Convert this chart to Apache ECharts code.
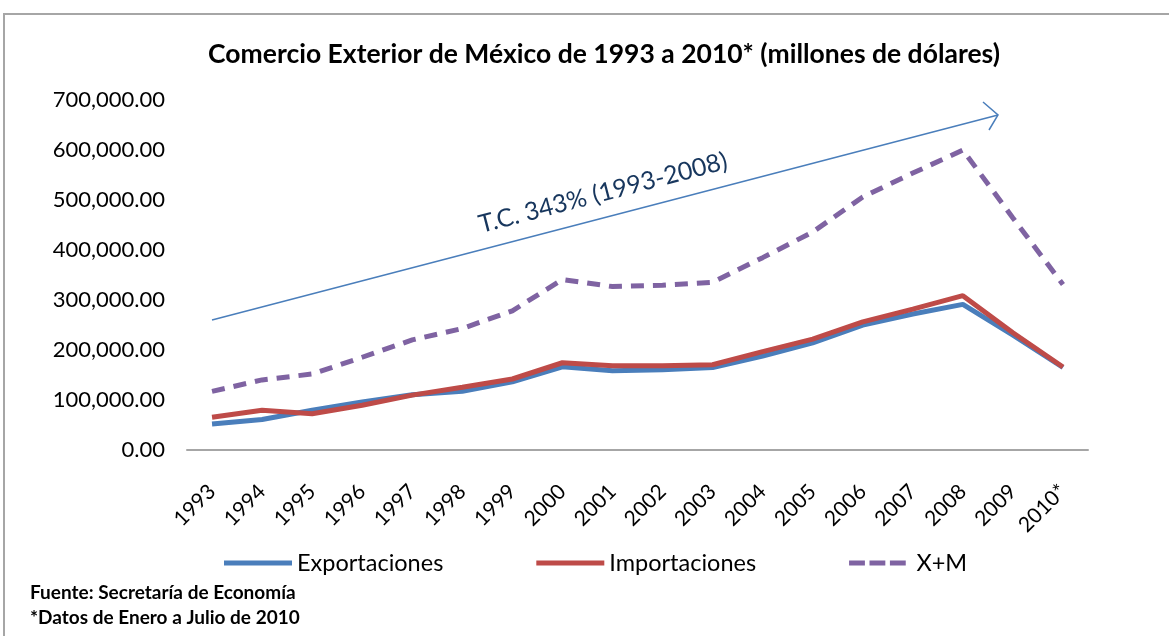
<!DOCTYPE html>
<html>
<head>
<meta charset="utf-8">
<script src="https://cdn.jsdelivr.net/npm/echarts@6/dist/echarts.min.js"></script>
<style>
  html, body { margin: 0; padding: 0; background: #ffffff; }
  #chart { width: 1169px; height: 636px; }
</style>
</head>
<body>
<div id="chart"></div>
<script>
  // datos (millones de dolares)
  var years = ['1993','1994','1995','1996','1997','1998','1999','2000','2001','2002','2003','2004','2005','2006','2007','2008','2009','2010*'];
  var exportaciones = [51900, 60900, 79500, 96000, 110400, 117500, 136400, 166500, 158400, 160700, 164800, 187900, 214200, 249900, 271900, 291300, 229700, 165000];
  var importaciones = [65400, 79300, 72500, 89500, 109800, 125400, 142000, 174500, 168400, 168700, 170500, 196800, 221800, 256100, 281900, 308600, 234400, 166000];
  var xm = [117300, 140200, 152000, 185500, 220200, 242900, 278400, 341000, 326800, 329400, 335300, 384700, 436000, 506000, 553800, 599900, 464100, 331000];
  var yTicks = [0, 100000, 200000, 300000, 400000, 500000, 600000, 700000];

  var font = 'Lato, "Open Sans", sans-serif';

  var chart = echarts.init(document.getElementById('chart'));

  var option = {
    backgroundColor: '#ffffff',
    animation: false,
    title: {
      text: 'Comercio Exterior de México de 1993 a 2010* (millones de dólares)',
      left: 599,
      top: 36,
      textAlign: 'center',
      textStyle: { fontFamily: font, fontSize: 26.5, fontWeight: 'bold', color: '#000' }
    },
    grid: { left: 187, right: 81, top: 100, bottom: 186 },
    legend: {
      left: 219,
      top: 546,
      itemWidth: 68,
      itemHeight: 5,
      itemGap: 93,
      textStyle: { fontFamily: font, fontSize: 23.5, color: '#000' },
      data: [
        { name: 'Exportaciones', icon: 'rect' },
        { name: 'Importaciones', icon: 'rect' },
        { name: 'X+M', icon: 'path://M0,0H19V6H0Z M24.5,0H43.5V6H24.5Z M49,0H68V6H49Z' }
      ]
    },
    xAxis: {
      type: 'category',
      data: years,
      boundaryGap: true,
      axisLine: { lineStyle: { color: '#a6a6a6', width: 2 } },
      axisTick: { show: false },
      axisLabel: { rotate: 45, margin: 38, fontFamily: font, fontSize: 21, color: '#000', interval: 0 }
    },
    yAxis: {
      type: 'value',
      min: yTicks[0],
      max: yTicks[yTicks.length - 1],
      interval: 100000,
      splitLine: { show: false },
      axisLine: { show: false },
      axisTick: { show: false },
      axisLabel: {
        margin: 22,
        fontFamily: font,
        fontSize: 22,
        color: '#000',
        formatter: function (v) {
          return v.toLocaleString('en-US', { minimumFractionDigits: 2, maximumFractionDigits: 2 });
        }
      }
    },
    series: [
      {
        name: 'Exportaciones',
        type: 'line',
        data: exportaciones,
        showSymbol: false,
        symbol: 'none',
        lineStyle: { color: '#4a7ebb', width: 5 },
        itemStyle: { color: '#4a7ebb' }
      },
      {
        name: 'Importaciones',
        type: 'line',
        data: importaciones,
        showSymbol: false,
        symbol: 'none',
        lineStyle: { color: '#be4b48', width: 5 },
        itemStyle: { color: '#be4b48' }
      },
      {
        name: 'X+M',
        type: 'line',
        data: xm,
        showSymbol: false,
        symbol: 'none',
        lineStyle: { color: '#7f63a2', width: 5, type: [13, 9] },
        itemStyle: { color: '#7f63a2' }
      }
    ],
    graphic: [
      // marco del grafico
      {
        type: 'rect',
        shape: { x: 4, y: 14, width: 1180, height: 640 },
        style: { fill: 'none', stroke: '#a6a6a6', lineWidth: 2 },
        z: -1
      },
      // flecha de tendencia
      {
        type: 'line',
        shape: { x1: 212, y1: 320, x2: 998, y2: 115 },
        style: { stroke: '#4a7ebb', lineWidth: 1.5 }
      },
      {
        type: 'polyline',
        shape: { points: [[983, 102], [998, 115], [989, 130]] },
        style: { stroke: '#4a7ebb', lineWidth: 1.5, fill: 'none' }
      },
      {
        type: 'text',
        x: 603,
        y: 193,
        rotation: Math.atan2(205, 786),
        style: {
          text: 'T.C. 343% (1993-2008)',
          fontFamily: font,
          fontSize: 25,
          fill: '#17365d',
          align: 'center',
          verticalAlign: 'middle'
        }
      },
      // notas
      {
        type: 'text',
        left: 30,
        top: 580,
        style: {
          text: 'Fuente: Secretaría de Economía\n*Datos de Enero a Julio de 2010',
          fontFamily: font,
          fontSize: 19,
          fontWeight: 'bold',
          lineHeight: 25,
          fill: '#000'
        }
      }
    ]
  };

  chart.setOption(option);
</script>
</body>
</html>
